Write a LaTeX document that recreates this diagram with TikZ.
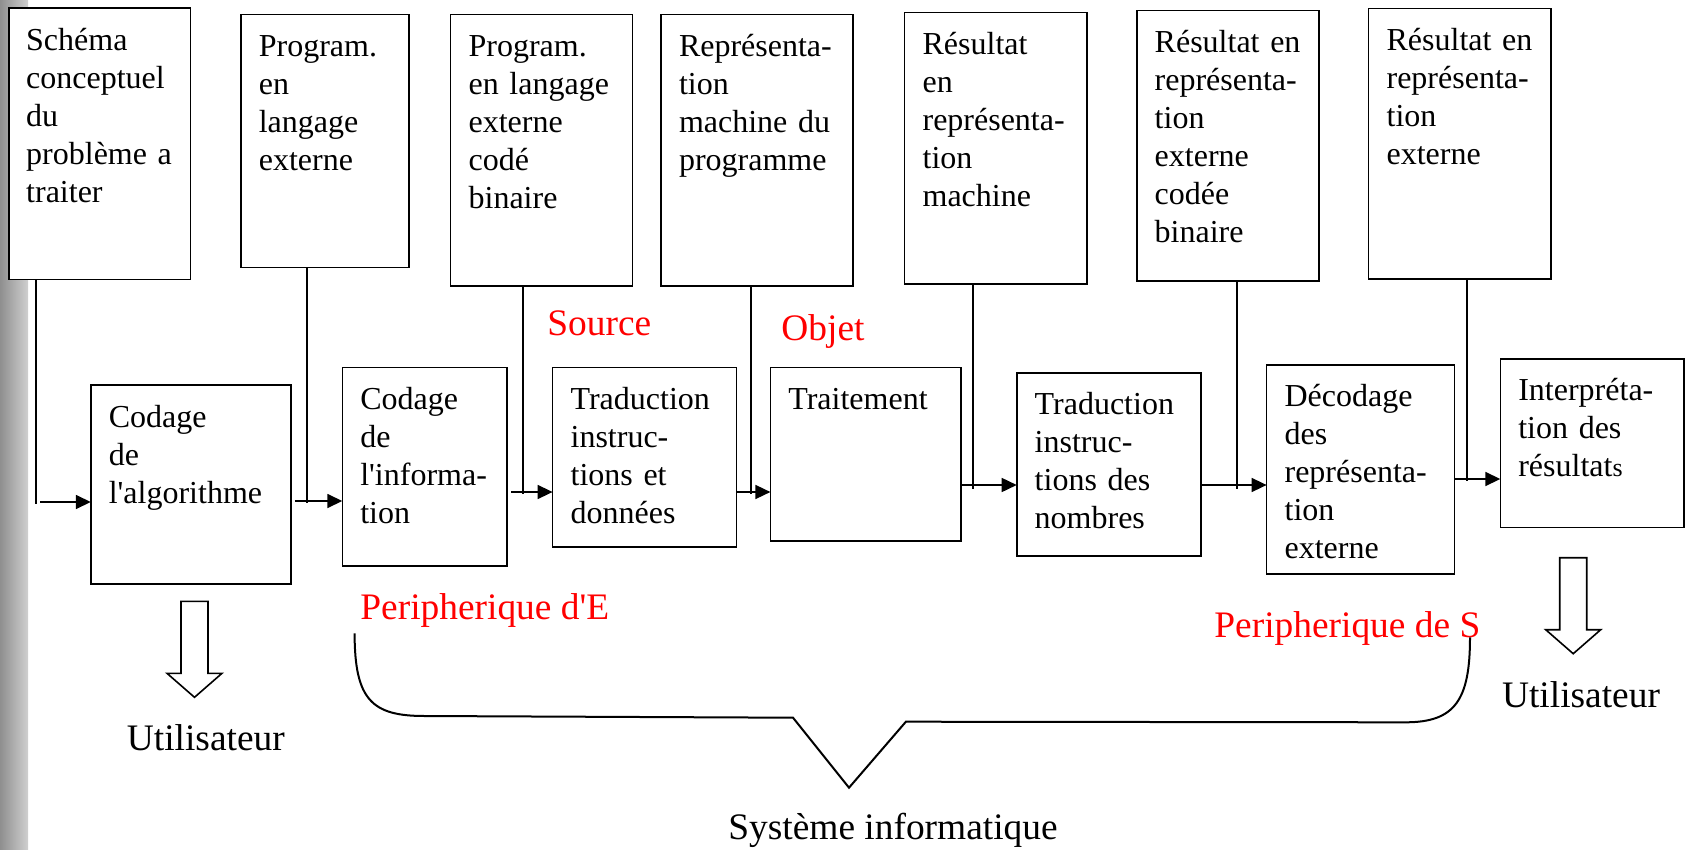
\documentclass[tikz,border=0pt]{standalone}
\usepackage{fontspec}
\setmainfont{Liberation Serif}[Ligatures=TeXOff]
\usetikzlibrary{arrows.meta,positioning}
\definecolor{ink}{HTML}{000000}
\definecolor{redtext}{HTML}{FF0000}
\definecolor{margin}{HTML}{A8A8A8}
\newcommand{\boxfont}{\fontsize{16}{19}\selectfont}
\newcommand{\bigfont}{\fontsize{18.7}{22}\selectfont}
\tikzset{
  >={Triangle[length=7.5pt,width=7pt]},
  every node/.style={text=ink},
  box/.style={draw=ink,line width=0.8pt,fill=white,anchor=north west,align=left,font=\boxfont,inner xsep=9pt,inner ysep=0pt,outer sep=0pt,text height=21pt},
  feed/.style={draw=ink,line width=0.6pt},
  arrow/.style={->,draw=ink,line width=0.8pt},
  hollow/.style={draw=ink,fill=white,line width=0.8pt},
  brace/.style={draw=ink,line width=1pt},
  caption/.style={font=\bigfont,anchor=base,inner sep=0pt},
  redcaption/.style={caption,text=redtext,anchor=base west},
}
\begin{document}
\begin{tikzpicture}[x=0.5pt,y=-0.5pt]
\useasboundingbox (0,0) rectangle (1685,850);
\shade[left color=margin!85!black,right color=margin!55] (0,0) rectangle (28,850);

\node[box,text width=73.5pt,text depth=114.5pt,inner xsep=8.6pt] (t1) at (9,8.3) {Schéma\\conceptuel\\du\\problème~a\\traiter};
\node[box,text width=66.1pt,text depth=105.3pt] (t2) at (240.8,14.7) {Program.\\en\\langage\\externe};
\node[box,text width=73pt,text depth=114.5pt] (t3) at (450.6,14.7) {Program.\\en langage\\externe\\codé\\binaire};
\node[box,text width=78pt,text depth=114.5pt] (t4) at (661,14.7) {Représenta-\\tion\\machine du\\programme};
\node[box,text width=73.2pt,text depth=114.6pt] (t5) at (904.6,12.7) {Résultat\\en\\représenta-\\tion\\machine};
\node[box,text width=73.1pt,text depth=114.1pt] (t6) at (1136.7,10.7) {Résultat en\\représenta-\\tion\\externe\\codée\\binaire};
\node[box,text width=73.2pt,text depth=114.1pt] (t7) at (1368.6,8.7) {Résultat en\\représenta-\\tion\\externe};

\node[box,text width=82pt,text depth=78.5pt] (b1) at (90.8,385) {Codage\\de\\l'algorithme};
\node[box,text width=64.4pt,text depth=78.2pt] (b2) at (342.3,367.3) {Codage\\de\\l'informa-\\tion};
\node[box,text width=74pt,text depth=68.9pt] (b3) at (552.6,367.3) {Traduction\\instruc-\\tions et\\données};
\node[box,text width=77.2pt,text depth=65.9pt] (b4) at (770.4,367.3) {Traitement};
\node[box,text width=74pt,text depth=70.5pt] (b5) at (1016.7,372.7) {Traduction\\instruc-\\tions des\\nombres};
\node[box,text width=76pt,text depth=83.5pt] (b6) at (1266.6,364.7) {Décodage\\des\\représenta-\\tion\\externe};
\node[box,text width=73.8pt,text depth=63.3pt] (b7) at (1500.3,358.7) {Interpréta-\\tion des\\résultat{\fontsize{13}{19}\selectfont s}};

\coordinate (j1) at (36,502);
\coordinate (j2) at (307,501);
\coordinate (j3) at (523,492);
\coordinate (j4) at (751,492);
\coordinate (j5) at (973,485);
\coordinate (j6) at (1237,485);
\coordinate (j7) at (1467,479);

\draw[feed] (t1.south -| j1) -- ([yshift=-1pt]j1);
\draw[feed] (t2.south -| j2) -- ([yshift=-1pt]j2);
\draw[feed] (t3.south -| j3) -- ([yshift=-1pt]j3);
\draw[feed] (t4.south -| j4) -- ([yshift=-1pt]j4);
\draw[feed] (t5.south -| j5) -- ([yshift=-2pt]j5);
\draw[feed] (t6.south -| j6) -- ([yshift=-2pt]j6);
\draw[feed] (t7.south -| j7) -- ([yshift=-1pt]j7);

\draw[arrow] ([xshift=2pt]j1) -- (b1.west |- j1);
\draw[arrow] ([xshift=2pt]b1.east |- j2) -- (b2.west |- j2);
\draw[arrow] ([xshift=2pt]b2.east |- j3) -- (b3.west |- j3);
\draw[arrow] (b3.east |- j4) -- (b4.west |- j4);
\draw[arrow] (b4.east |- j5) -- (b5.west |- j5);
\draw[arrow] (b5.east |- j6) -- (b6.west |- j6);
\draw[arrow] (b6.east |- j7) -- (b7.west |- j7);

\node[redcaption] (src) at (547,335) {Source};
\node[redcaption] (obj) at (781,340) {Objet};
\node[redcaption] (pe) at (360,619.3) {Peripherique d'E};
\node[redcaption] (ps) at (1214,637.3) {Peripherique de S};

\coordinate (h1) at (194.5,601.3);
\coordinate (h2) at (1573.2,557.7);
\draw[hollow] (h1) ++(-13.5,0) -- ++(27,0) -- ++(0,72) -- ++(14,0) -- ++(-27.5,24) -- ++(-27.5,-24) -- ++(14,0) -- cycle;
\draw[hollow] (h2) ++(-13.5,0) -- ++(27,0) -- ++(0,72) -- ++(14,0) -- ++(-27.5,24) -- ++(-27.5,-24) -- ++(14,0) -- cycle;

\node[caption] (u1) at (205.8,750) {Utilisateur};
\node[caption] (u2) at (1581,707.7) {Utilisateur};

\draw[brace] (354.6,633.3) .. controls (354.6,700) and (372,716) .. (424.5,716) -- (793,717.7) -- (849,787.7) -- (905.9,721.7) -- (1405.5,722.3) .. controls (1455,722.3) and (1470,700) .. (1470,637.3);

\node[caption] (sys) at (893,839.3) {Système informatique};

\end{tikzpicture}
\end{document}
